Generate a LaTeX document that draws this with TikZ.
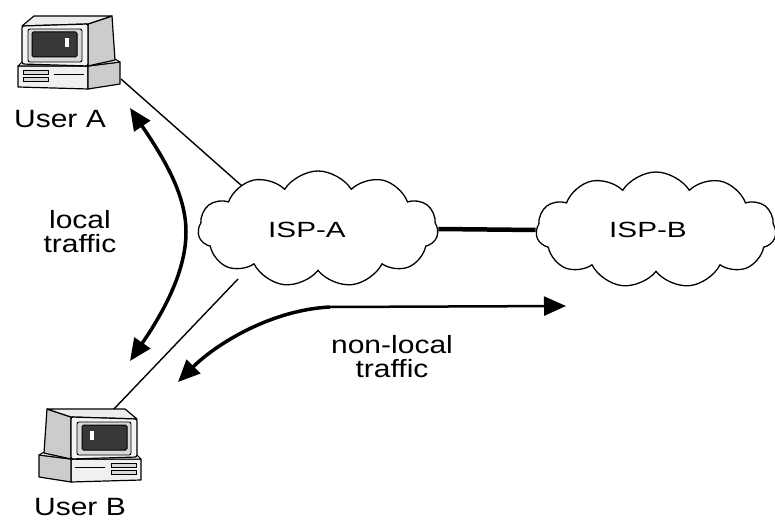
\documentclass[tikz,border=0pt]{standalone}
\usepackage{fontspec}
\usetikzlibrary{shapes.symbols,arrows.meta}
\newfontfamily\lblfont{Liberation Sans}[FakeStretch=1.2]
\newfontfamily\ispfont{Liberation Sans}[FakeStretch=1.35]

% desktop computer icon, monitor facing left, side panels on the right
\newcommand{\pcicon}{%
  % base unit
  \draw[line width=1.2pt, fill=gray!12, line join=round]
    (18,66) -- (88,66) -- (88,89) -- (18,87) -- cycle;
  \draw[line width=1.2pt, fill=gray!40, line join=round]
    (88,66) -- (120,62) -- (120,84) -- (88,89) -- cycle;
  \draw[line width=1pt, fill=gray!22, line join=round]
    (18,66) -- (23,61) -- (115,59) -- (120,62) -- (88,66) -- cycle;
  \draw[line width=0.9pt, fill=gray!30] (23,70) rectangle (48,74);
  \draw[line width=0.9pt, fill=gray!30] (23,77) rectangle (48,81);
  \draw[line width=0.9pt] (54,74) -- (84,74);
  % monitor
  \draw[line width=1.2pt, fill=gray!40, line join=round]
    (88,24) -- (112,16) -- (115,60) -- (88,66) -- cycle;
  \draw[line width=1.2pt, fill=gray!15, line join=round]
    (22,26) -- (34,16) -- (112,16) -- (88,24) -- cycle;
  \draw[line width=1.2pt, fill=gray!8, rounded corners=2pt]
    (22,26) -- (88,24) -- (88,66) -- (22,64) -- cycle;
  \draw[line width=0.9pt, fill=gray!30, rounded corners=2pt] (28,29) rectangle (82,62);
  \draw[line width=1pt, fill=black!78, rounded corners=1.5pt] (32,32) rectangle (77,57);
  \fill[white] (65,38) rectangle (69,47);
}

\tikzset{
  lbl/.style={font=\lblfont\fontsize{25}{24}\selectfont, align=center, inner sep=0pt},
  isplbl/.style={font=\ispfont\fontsize{22}{24}\selectfont, inner sep=0pt},
  ispcloud/.style={cloud, draw, fill=white, line width=1.3pt, cloud puffs=11,
    cloud puff arc=115, aspect=2.1, minimum width=240pt, minimum height=116pt, inner sep=0pt},
  wire/.style={line width=1.4pt},
  trunk/.style={line width=4.5pt},
  flow/.style={line width=3.5pt, {Triangle[length=22pt,width=19pt]}-{Triangle[length=22pt,width=19pt]}},
  headleft/.style={line width=3.5pt, {Triangle[length=22pt,width=19pt]}-},
  headright/.style={line width=2.5pt, -{Triangle[length=22pt,width=19pt]}}
}

\begin{document}
\begin{tikzpicture}[x=1pt, y=-1pt]
  \useasboundingbox (0,0) rectangle (775,521);
  \fill[white] (0,0) rectangle (775,521);

  % attachment points
  \coordinate (portA) at (121,79);
  \coordinate (joinA) at (242,186);
  \coordinate (joinB) at (238,279);
  \coordinate (portB) at (113,410);

  % access lines
  \draw[wire] (portA) -- (joinA);
  \draw[wire] (joinB) -- (portB);

  % computers
  \begin{scope}
    \pcicon
  \end{scope}
  \begin{scope}[shift={(159,393)}, xscale=-1]
    \pcicon
  \end{scope}

  % provider clouds
  \node[ispcloud] (ispA) at (318,229) {};
  \node[ispcloud] (ispB) at (656,230) {};
  \node[isplbl] (ispAtxt) at (307,230) {ISP-A};
  \node[isplbl] (ispBtxt) at (648,230) {ISP-B};

  % link between providers
  \draw[trunk] (ispA.east) -- (ispB.west);

  % labels
  \node[lbl] (userA) at (60,119) {User A};
  \node[lbl] (userB) at (80,507) {User B};
  \node[lbl] (localtxt) at (80,232) {local\\traffic};
  \node[lbl] (nonlocaltxt) at (392,357) {non-local\\traffic};

  % local traffic
  \coordinate (locTop) at (130,108);
  \coordinate (locBot) at (130,361);
  \draw[flow] (locTop) .. controls (165,160) and (186,195) .. (186,232)
                       .. controls (186,270) and (165,310) .. (locBot);

  % non-local traffic
  \coordinate (nlLeft) at (178,382);
  \coordinate (nlMid) at (330,307);
  \coordinate (nlRight) at (566,306);
  \draw[headleft] (nlLeft) .. controls (215,345) and (270,310) .. (nlMid);
  \draw[headright] (nlMid) -- (nlRight);
\end{tikzpicture}
\end{document}
